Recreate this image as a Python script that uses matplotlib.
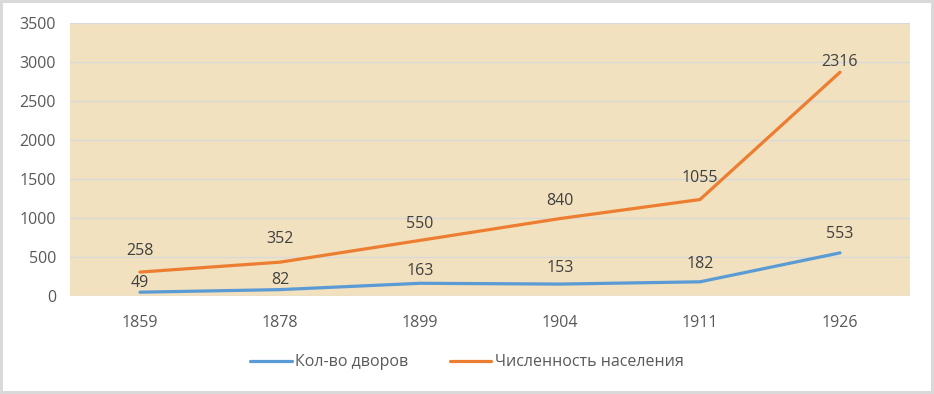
import numpy as np
import matplotlib.pyplot as plt

# Data (stacked line chart: the orange line sits on top of the blue one)
years = ['1859', '1878', '1899', '1904', '1911', '1926']
dvory = [49, 82, 163, 153, 182, 553]
naselenie = [258, 352, 550, 840, 1055, 2316]

# label gaps above the points, in pixels (as Excel placed them)
gap_blue = [5, 6, 8, 12, 14, 15]
gap_orange = [17, 19, 12, 14, 18, 6]

plt.rcParams['font.family'] = ['Open Sans', 'DejaVu Sans']

fig = plt.figure(figsize=(9.34, 3.94), dpi=100)
fig.patch.set_facecolor('white')
fig.patch.set_edgecolor('#d9d9d9')
fig.patch.set_linewidth(3)

ax = fig.add_axes([0.0749, 0.2487, 0.8994, 0.6929])
ax.set_facecolor('#f1e1be')

x = np.arange(len(years))
blue = np.array(dvory)
orange = blue + np.array(naselenie)

ax.plot(x, blue, color='#5b9bd5', lw=2.3, solid_capstyle='round', label='Кол-во дворов', zorder=3)
ax.plot(x, orange, color='#ed7d31', lw=2.3, solid_capstyle='round', label='Численность населения', zorder=3)

for xi, yi, v, g in zip(x, blue, dvory, gap_blue):
    ax.annotate(str(v), (xi, yi), xytext=(0, g * 0.72), textcoords='offset points',
                ha='center', va='baseline', fontsize=11.5, color='#404040')
for xi, yi, v, g in zip(x, orange, naselenie, gap_orange):
    ax.annotate(str(v), (xi, yi), xytext=(0, g * 0.72), textcoords='offset points',
                ha='center', va='baseline', fontsize=11.5, color='#404040')

ax.set_xlim(-0.5, len(years) - 0.5)
ax.set_ylim(0, 3500)
ax.set_yticks(np.arange(0, 3501, 500))
ax.set_xticks(x)
ax.set_xticklabels(years)
ax.tick_params(axis='both', length=0, labelsize=11.5, labelcolor='#595959')
ax.tick_params(axis='x', pad=14)
ax.tick_params(axis='y', pad=10)
ax.grid(axis='y', color='#d9d9d9', lw=1)
ax.set_axisbelow(True)
for s in ax.spines.values():
    s.set_visible(False)

fig.legend(loc='center', bbox_to_anchor=(0.5, 0.08), ncol=2, frameon=False,
           fontsize=11.5, handlelength=2.6, handletextpad=0.2, columnspacing=2.6,
           labelcolor='#595959')

fig.savefig('out.png', dpi=100, facecolor=fig.get_facecolor(), edgecolor=fig.get_edgecolor())
